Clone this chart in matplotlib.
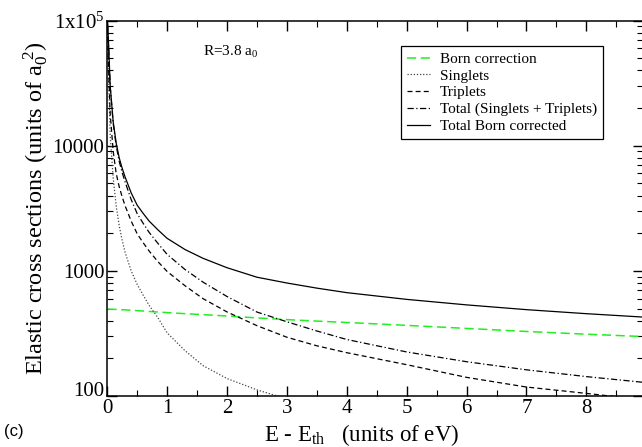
import matplotlib
matplotlib.use('Agg')
import matplotlib.pyplot as plt
from matplotlib.ticker import MultipleLocator, FixedLocator, FixedFormatter, LogLocator, NullFormatter

# energies above threshold (eV)
energy = [0.005, 0.02, 0.05, 0.1, 0.15, 0.2, 0.25, 0.3, 0.4, 0.5, 0.6, 0.7, 0.85,
          1.0, 1.3, 1.6, 2.0, 2.5, 3.0, 3.5, 4.0, 5.0, 6.0, 7.0, 8.0, 9.0]

born = [495, 495, 494, 493, 492, 491, 489, 488, 485, 481, 478, 474, 469,
        464, 455, 447, 436, 421, 408, 397, 387, 367, 347, 328, 312, 298]
singlets = [88000, 40000, 12000, 5500, 3300, 2300, 1750, 1400, 1000, 780, 640, 530, 420,
            320, 230, 175, 138, 112, 95, 82, 72, 58, 48, 41, 36, 32]
triplets = [85000, 45000, 18000, 9000, 6000, 4700, 3900, 3300, 2500, 1980, 1680, 1440, 1180,
            990, 760, 600, 470, 365, 295, 252, 222, 178, 141, 118, 105, 93]
total = [94000, 69000, 29500, 15000, 10000, 7510, 6110, 5110, 3715, 2870, 2400, 2030, 1650,
         1355, 1025, 813, 624, 469, 392, 331, 283, 225, 188, 162, 143, 128]
total_born = [95000, 70000, 30000, 15500, 10500, 8000, 6600, 5600, 4200, 3350, 2880, 2500, 2120,
              1820, 1480, 1260, 1060, 890, 800, 728, 670, 592, 535, 490, 455, 426]

ytick_vals = [100, 1000, 10000, 100000]
ytick_labels = ['100', '1000', '10000', r'1x10$^5$']

plt.rcParams['font.family'] = ['Liberation Serif', 'DejaVu Serif']
plt.rcParams['mathtext.fontset'] = 'custom'
plt.rcParams['mathtext.rm'] = 'Liberation Serif'
plt.rcParams['mathtext.it'] = 'Liberation Serif'

fig = plt.figure(figsize=(6.42, 4.47), dpi=100)
ax = fig.add_axes([0.167, 0.114, 0.835, 0.840])

lw = 0.9
ax.plot(energy, born, color='#22ee22', ls=(0, (6, 3)), lw=1.1, label='Born correction')
ax.plot(energy, singlets, color='#444444', ls=(0, (1, 1.5)), lw=lw, label='Singlets')
ax.plot(energy, triplets, color='black', ls=(0, (4, 2.5)), lw=lw, label='Triplets')
ax.plot(energy, total, color='black', ls=(0, (5, 2, 1, 2)), lw=lw,
        label='Total (Singlets + Triplets)')
ax.plot(energy, total_born, color='black', ls='-', lw=lw, label='Total Born corrected')

ax.set_yscale('log')
ax.set_ylim(100, 100000)
ax.set_xlim(0, 8.95)

ax.yaxis.set_major_locator(FixedLocator(ytick_vals))
ax.yaxis.set_major_formatter(FixedFormatter(ytick_labels))
ax.yaxis.set_minor_locator(LogLocator(base=10, subs=range(2, 10)))
ax.yaxis.set_minor_formatter(NullFormatter())
ax.xaxis.set_major_locator(MultipleLocator(1))
ax.xaxis.set_minor_locator(MultipleLocator(0.5))

ax.tick_params(which='both', direction='in', top=True, right=True, labelsize=15, pad=2)
ax.tick_params(which='major', length=7, width=1.0)
ax.tick_params(which='minor', length=4, width=0.8)
for s in ax.spines.values():
    s.set_linewidth(1.1)

fig.canvas.draw()
ax.get_yticklabels()[0].set_verticalalignment('baseline')

ax.set_xlabel(r'E - E$_{\rm th}$   (units of eV)', fontsize=16.5)
ax.xaxis.set_label_coords(0.475, -0.068)
ax.set_ylabel(r'Elastic cross sections (units of a$_0^{\ 2}$)', fontsize=17.5, labelpad=1)

ax.text(0.178, 0.905, r'R=3.8 a$_0$', transform=ax.transAxes, fontsize=11)

leg = ax.legend(loc='upper right', bbox_to_anchor=(0.925, 0.932), fontsize=11,
                frameon=True, fancybox=False, edgecolor='black', framealpha=1,
                handlelength=1.5, handletextpad=0.65, labelspacing=0.2, borderpad=0.4,
                borderaxespad=0)
leg.get_frame().set_linewidth(0.9)

fig.text(0.006, 0.024, '(c)', fontsize=12, family=['Liberation Sans', 'DejaVu Sans'])

fig.savefig('out.png', dpi=100)
